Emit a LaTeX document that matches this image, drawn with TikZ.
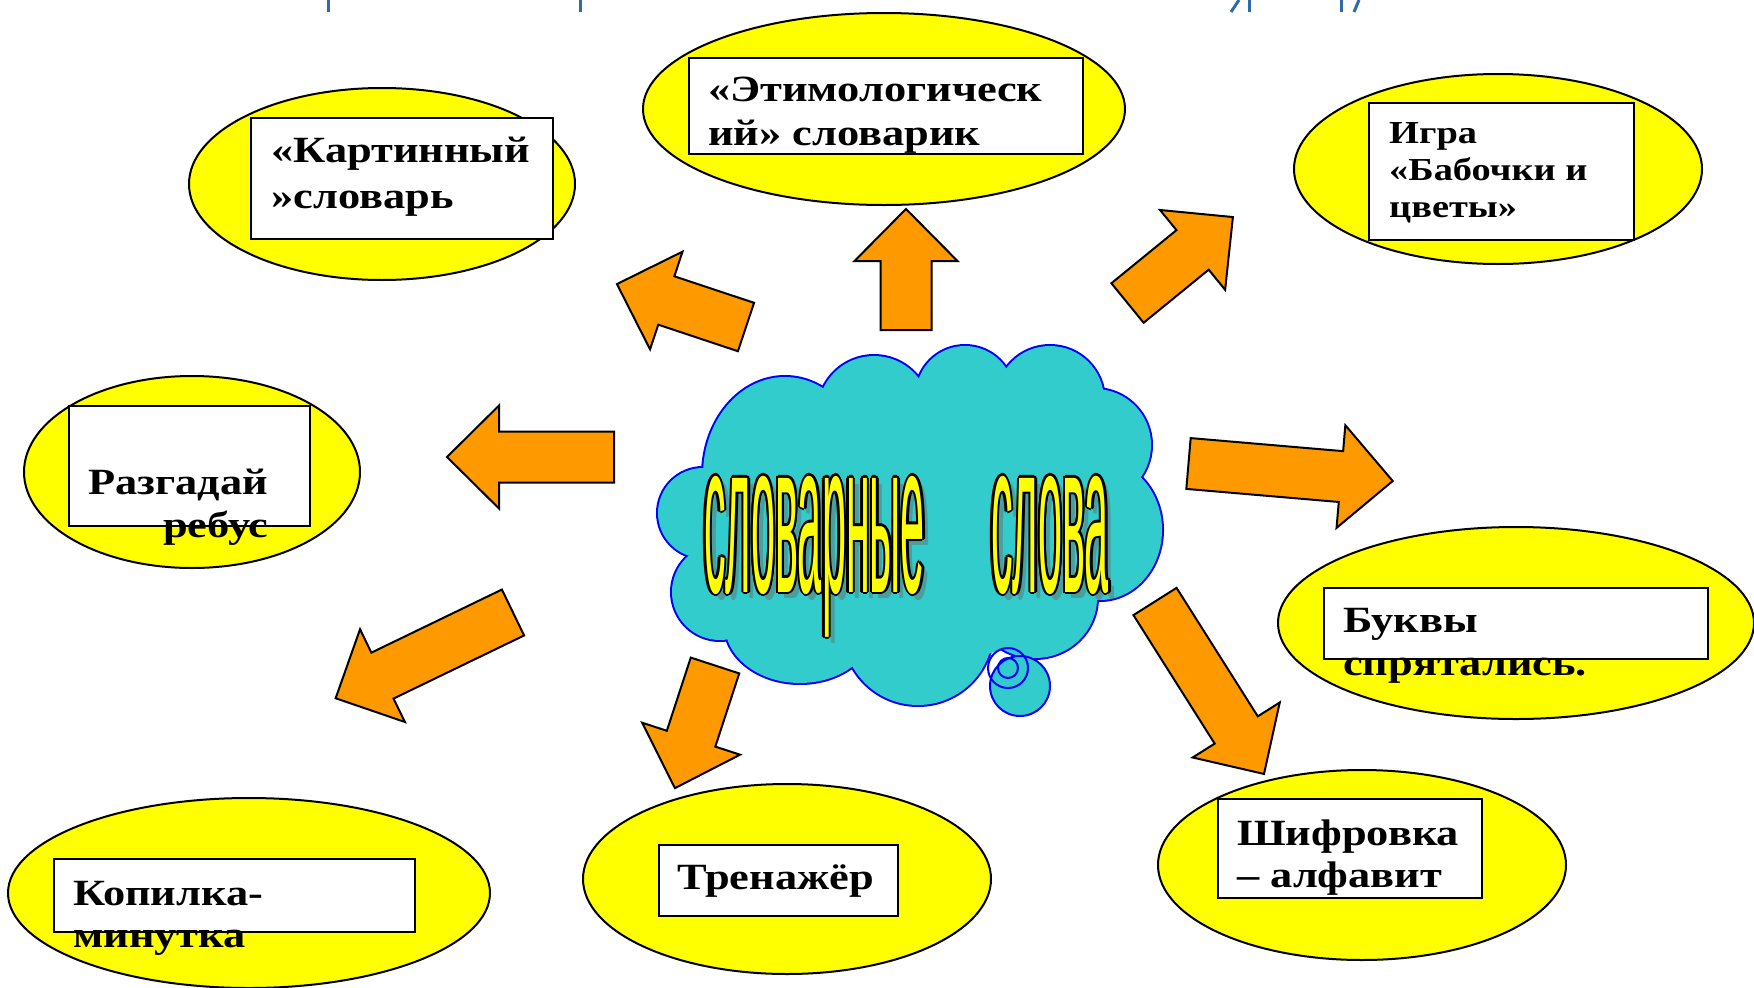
\documentclass[tikz,border=0pt]{standalone}
\usepackage{fontspec}
\newfontfamily\boxfont[FakeStretch=1.2]{Liberation Serif}
\newfontfamily\cloudfont[FakeStretch=0.2]{Liberation Sans}
\usetikzlibrary{shapes.geometric}

\definecolor{bubbleyellow}{HTML}{FFFF00}
\definecolor{arroworange}{HTML}{FF9900}
\definecolor{cloudteal}{HTML}{33CCCC}
\definecolor{cloudblue}{HTML}{0000FF}
\definecolor{titleblue}{HTML}{2F6BA8}

\begin{document}
\begin{tikzpicture}[x=1pt,y=-1pt,
  oval/.style={ellipse,draw,line width=2,fill=bubbleyellow,inner sep=0,outer sep=0},
  wbox/.style={rectangle,draw,line width=2,fill=white,anchor=north west,inner sep=0,outer sep=0},
  btext/.style={anchor=base west,align=left,inner sep=0,font=\boxfont\bfseries\fontsize{37}{43}\selectfont},
  arrowshape/.style={draw,fill=arroworange,line width=2,line join=miter},
  cloudword/.style={anchor=base west,inner sep=0,font=\cloudfont\fontsize{216}{216}\selectfont}]
\useasboundingbox (0,0) rectangle (1754,988);
\clip (0,0) rectangle (1754,988);

% cut off title
\foreach \xa/\xb in {328/328,580/580,1239/1231,1249/1249,1341/1341,1359/1354}
  \draw[titleblue,line width=3] (\xa,0) -- (\xb,12);

% Ovals
\node[oval,minimum width=386,minimum height=192] (kartoval) at (382,184) {};
\node[oval,minimum width=482,minimum height=192] (etimoval) at (884,109) {};
\node[oval,minimum width=408,minimum height=190] (igraoval) at (1498,169) {};
\node[oval,minimum width=336,minimum height=192] (rebusoval) at (192,472) {};
\node[oval,minimum width=476,minimum height=192] (bukvoval) at (1516,623) {};
\node[oval,minimum width=408,minimum height=190] (shifroval) at (1362,865) {};
\node[oval,minimum width=408,minimum height=190] (trenoval) at (787,879) {};
\node[oval,minimum width=482,minimum height=190] (kopoval) at (249,893) {};

% Boxes
\node[wbox,minimum width=302,minimum height=121] (kartbox) at (251,118) {};
\node[wbox,minimum width=394,minimum height=96] (etimbox) at (689,58) {};
\node[wbox,minimum width=265,minimum height=137] (igrabox) at (1369,103) {};
\node[wbox,minimum width=241,minimum height=120] (rebusbox) at (69,406) {};
\node[wbox,minimum width=384,minimum height=71] (bukvbox) at (1324,588) {};
\node[wbox,minimum width=264,minimum height=99] (shifrbox) at (1218,799) {};
\node[wbox,minimum width=239,minimum height=71] (trenbox) at (659,845) {};
\node[wbox,minimum width=361,minimum height=73] (kopbox) at (54,859) {};

% Texts (anchored on the last line)
\node[btext,font=\boxfont\bfseries\fontsize{37}{46}\selectfont] (karttext) at (271,208) {«Картинный\\»словарь};
\node[btext,font=\boxfont\bfseries\fontsize{37}{44}\selectfont] (etimtext) at (708,145) {«Этимологическ\\ий» словарик};
\node[btext,font=\boxfont\bfseries\fontsize{32}{37}\selectfont] (igratext) at (1389,217) {Игра\\«Бабочки и\\цветы»};
\node[btext] (rebustext) at (88,537) {Разгадай\\\hspace*{75pt}ребус};
\node[btext] (bukvtext) at (1343,675) {Буквы\\спрятались.};
\node[btext,font=\boxfont\bfseries\fontsize{37}{42}\selectfont] (shifrtext) at (1237,887) {Шифровка\\– алфавит};
\node[btext] (trentext) at (677,889) {Тренажёр};
\node[btext,font=\boxfont\bfseries\fontsize{37}{42}\selectfont] (koptext) at (73,947) {Копилка-\\минутка};

% block arrows: tail x / tail y / angle / length
\foreach \tx/\ty/\ang/\len in {906/330/90/121, 746/327/161.6/136, 1127.5/303/39.2/136,
    614/457/180/167, 1188.5/463.5/-4.9/205, 513/612.5/205.8/197,
    715/665.5/251.9/129, 1155/601.5/-57.7/204}
  \draw[arrowshape,shift={(\tx,\ty)},rotate=\ang] (0,-25.5) -- ({\len-52},-25.5) -- ({\len-52},-51.5)
    -- (\len,0) -- ({\len-52},51.5) -- ({\len-52},25.5) -- (0,25.5) -- cycle;

% cloud
\foreach \cx/\cy/\rx/\ry in {703/513/45/45, 720/592/48/48, 800/625/75/58, 918/630/75/75,
    1035/598/62/60, 1100/530/62/70, 1095/445/56/56, 1050/400/54/54, 965/395/49/49,
    874/412/56/56, 785/475/82/98}
  \draw[cloudblue,line width=4] (\cx,\cy) ellipse [x radius=\rx,y radius=\ry];
\fill[cloudteal] (910,525) ellipse [x radius=200,y radius=140];
\foreach \cx/\cy/\rx/\ry in {703/513/45/45, 720/592/48/48, 800/625/75/58, 918/630/75/75,
    1035/598/62/60, 1100/530/62/70, 1095/445/56/56, 1050/400/54/54, 965/395/49/49,
    874/412/56/56, 785/475/82/98}
  \fill[cloudteal] (\cx,\cy) ellipse [x radius=\rx,y radius=\ry];
\draw[cloudblue,fill=cloudteal,line width=2] (1020,686) circle [radius=30];
\draw[cloudblue,line width=2] (1008,668) circle [radius=20];
\draw[cloudblue,line width=2] (1008,668) circle [radius=10];

% cloud words: shadow, outline, fill
\node[cloudword,text=black!60,opacity=0.45,shift={(6,6)}] (shadow1) at (704,592) {словарные};
\node[cloudword,text=black!60,opacity=0.45,shift={(6,6)}] (shadow2) at (991,592) {слова};
\foreach \a in {0,45,...,315} {
  \node[cloudword,text=black,shift={(\a:2.4)}] (outline1) at (704,592) {словарные};
  \node[cloudword,text=black,shift={(\a:2.4)}] (outline2) at (991,592) {слова};
}
\node[cloudword,text=bubbleyellow] (cloudw1) at (704,592) {словарные};
\node[cloudword,text=bubbleyellow] (cloudw2) at (991,592) {слова};
\end{tikzpicture}
\end{document}
